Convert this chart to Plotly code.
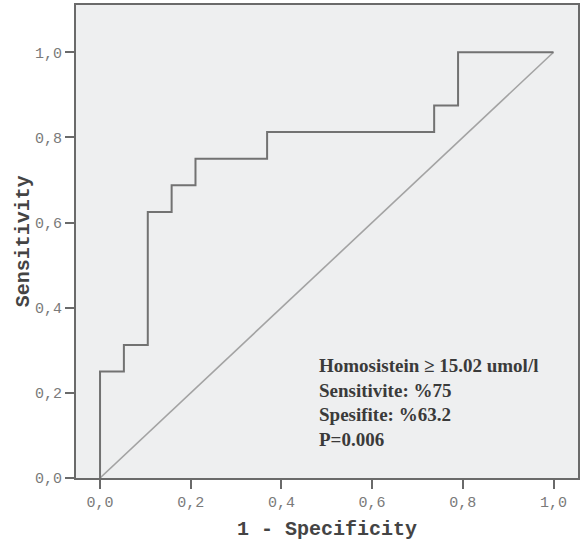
import plotly.graph_objects as go

# ROC step curve (1 - specificity vs sensitivity)
fpr = [0.0, 0.0, 0.0526, 0.1053, 0.1579, 0.2105, 0.3684, 0.7368, 0.7895, 1.0]
tpr = [0.0, 0.25, 0.3125, 0.625, 0.6875, 0.75, 0.8125, 0.875, 1.0, 1.0]
ref_x = [0.0, 1.0]
ref_y = [0.0, 1.0]
tick_vals = [0.0, 0.2, 0.4, 0.6, 0.8, 1.0]
tick_text = ["0,0", "0,2", "0,4", "0,6", "0,8", "1,0"]
x_title = "1 - Specificity"
y_title = "Sensitivity"
note_lines = ["Homosistein ≥ 15.02 umol/l", "Sensitivite: %75", "Spesifite: %63.2", "P=0.006"]

fig = go.Figure()
fig.add_trace(go.Scatter(x=ref_x, y=ref_y, mode="lines",
                         line=dict(color="#a3a3a3", width=1.6), hoverinfo="skip"))
fig.add_trace(go.Scatter(x=fpr, y=tpr, mode="lines", line_shape="hv",
                         line=dict(color="#727272", width=2)))

fig.add_annotation(x=0.479, y=0.293, xref="x", yref="y", xanchor="left", yanchor="top",
                   align="left", showarrow=False,
                   text="<br>".join("<b>" + s + "</b>" for s in note_lines),
                   font=dict(family="Liberation Serif", size=19, color="#3a3a3a"))

title_font = dict(family="Liberation Mono", size=20, color="#444444")
fig.add_annotation(x=0.5, y=-0.108, xref="paper", yref="paper", xanchor="center",
                   yanchor="middle", showarrow=False, text="<b>" + x_title + "</b>",
                   font=title_font)
fig.add_annotation(x=-0.104, y=0.5, xref="paper", yref="paper", xanchor="center",
                   yanchor="middle", showarrow=False, textangle=-90,
                   text="<b>" + y_title + "</b>", font=title_font)

axis_common = dict(
    showgrid=False, zeroline=False, showline=True, linecolor="#6a6a6a", linewidth=2,
    mirror=True, ticks="outside", ticklen=9, tickwidth=2, tickcolor="#6a6a6a",
    tickvals=tick_vals, ticktext=tick_text, automargin=False,
    tickfont=dict(family="Liberation Mono", size=15, color="#7a7a7a"),
)
fig.update_xaxes(range=[-0.053, 1.054], **axis_common)
fig.update_yaxes(range=[0.0, 1.111], **axis_common)

fig.update_layout(
    width=581, height=542, showlegend=False,
    margin=dict(l=76, r=3, t=5, b=64, autoexpand=False),
    paper_bgcolor="white", plot_bgcolor="#eeeff0",
)
fig.write_html("out.html", config={"displayModeBar": False},
               post_script="document.body.style.margin='0';")
